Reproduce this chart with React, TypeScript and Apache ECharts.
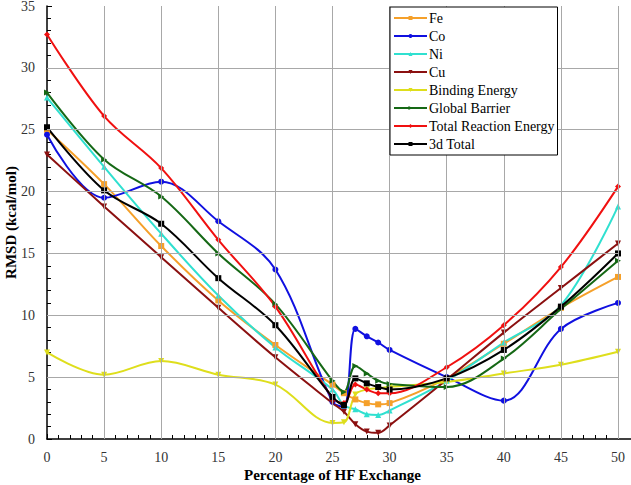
import React, { useEffect, useRef } from "react";
import * as echarts from "echarts";

const hfPercent = [0, 5, 10, 15, 20, 25, 26, 27, 28, 29, 30, 35, 40, 45, 50];
const fe = [25.0, 20.6, 15.6, 11.2, 7.6, 4.4, 3.7, 3.2, 2.9, 2.8, 2.9, 4.9, 7.7, 10.6, 13.1];
const co = [24.6, 19.5, 20.8, 17.6, 13.7, 3.0, 2.6, 8.9, 8.3, 7.8, 7.2, 5.0, 3.1, 8.9, 11.0];
const ni = [27.6, 22.0, 16.6, 11.6, 7.4, 4.0, 2.7, 2.4, 2.0, 1.95, 2.3, 4.7, 7.8, 10.8, 18.8];
const cu = [23.0, 18.8, 14.7, 10.6, 6.6, 2.9, 2.2, 1.2, 0.6, 0.5, 1.1, 4.8, 8.6, 12.2, 15.8];
const bindingEnergy = [7.0, 5.2, 6.3, 5.2, 4.4, 1.3, 1.35, 3.6, 4.0, 4.1, 4.2, 4.6, 5.3, 6.0, 7.05];
const globalBarrier = [28.0, 22.6, 19.6, 15.0, 10.9, 4.7, 3.8, 5.9, 5.3, 4.7, 4.45, 4.2, 6.5, 10.5, 14.4];
const totalReaction = [32.7, 26.1, 21.9, 16.1, 10.7, 3.3, 2.9, 4.4, 4.0, 3.7, 3.7, 5.8, 9.2, 13.9, 20.4];
const total3d = [25.2, 20.1, 17.4, 13.0, 9.2, 3.4, 2.75, 4.9, 4.5, 4.2, 4.0, 4.9, 7.2, 10.7, 15.0];

// grid line positions (vertical at x ticks, horizontal at y ticks)
const xGridTicks = [5, 10, 15, 20, 25, 30, 35, 40, 45, 50];
const yGridTicks = [5, 10, 15, 20, 25, 30];

const seriesDefs = [
  { name: "Fe", data: fe, color: "#f5a02a", symbol: "rect" },
  { name: "Co", data: co, color: "#1010e0", symbol: "circle" },
  { name: "Ni", data: ni, color: "#30e0d0", symbol: "triangle" },
  { name: "Cu", data: cu, color: "#8b1010", symbol: "path://M0,0L10,0L5,10Z" },
  { name: "Binding Energy", data: bindingEnergy, color: "#dede1c", symbol: "path://M0,0L10,0L5,10Z" },
  { name: "Global Barrier", data: globalBarrier, color: "#156815", symbol: "path://M0,0L10,5L0,10Z" },
  { name: "Total Reaction Energy", data: totalReaction, color: "#f01010", symbol: "diamond" },
  { name: "3d Total", data: total3d, color: "#000000", symbol: "rect" },
];

const FONT = "'Liberation Serif', 'Times New Roman', Times, serif";
const GRID_COLOR = "#a8a8a8";

export default function App() {
  const ref = useRef<HTMLDivElement>(null);
  useEffect(() => {
    if (!ref.current) return;
    const chart = echarts.init(ref.current, undefined, { renderer: "svg" });
    const axisCommon = {
      type: "value",
      nameMoveOverlap: false,
      axisLine: { show: true, onZero: false, lineStyle: { color: "#000", width: 1.5 } },
      axisTick: { show: true, inside: true, length: 5, lineStyle: { color: "#000" } },
      minorTick: { show: true, splitNumber: 5, length: 4, lineStyle: { color: "#000" } },
      axisLabel: { fontFamily: FONT, fontSize: 14, color: "#333" },
      splitLine: { show: false },
    };
    chart.setOption({
      animation: false,
      textStyle: { fontFamily: FONT },
      grid: { left: 47, right: 13, top: 6, bottom: 46, outerBoundsMode: "none", containLabel: false },
      legend: {
        orient: "vertical",
        left: 390,
        top: 7,
        padding: [3, 3, 3, 3],
        itemWidth: 33,
        itemHeight: 5,
        itemGap: 2,
        backgroundColor: "#ffffff",
        borderColor: "#000000",
        borderWidth: 1,
        z: 10,
        textStyle: { fontFamily: FONT, fontSize: 14, color: "#000", lineHeight: 16, padding: [0, 0, 0, -3] },
        data: seriesDefs.map((s) => s.name),
      },
      xAxis: {
        ...axisCommon,
        min: 0,
        max: 50,
        interval: 5,
        name: "Percentage of HF Exchange",
        nameLocation: "middle",
        nameGap: 28,
        nameTextStyle: { fontFamily: FONT, fontSize: 15, fontWeight: "bold", color: "#000" },
        axisLabel: { ...axisCommon.axisLabel, margin: 11 },
      },
      yAxis: {
        ...axisCommon,
        min: 0,
        max: 35,
        interval: 5,
        name: "RMSD (kcal/mol)",
        nameLocation: "middle",
        nameGap: 29,
        nameTextStyle: { fontFamily: FONT, fontSize: 15, fontWeight: "bold", color: "#000" },
        axisLabel: { ...axisCommon.axisLabel, margin: 12 },
      },
      graphic: [
        {
          type: "line",
          shape: { x1: 618, y1: 439, x2: 631, y2: 439 },
          style: { stroke: "#000", lineWidth: 1.5 },
        },
      ],
      series: [
        {
          name: "grid",
          type: "line",
          data: [],
          z: 0,
          silent: true,
          markLine: {
            silent: true,
            symbol: ["none", "none"],
            label: { show: false },
            lineStyle: { color: GRID_COLOR, width: 1, type: "solid" },
            data: [
              ...xGridTicks.map((v) => ({ xAxis: v })),
              ...yGridTicks.map((v) => ({ yAxis: v })),
            ],
          },
        },
        ...seriesDefs.map((s) => ({
          name: s.name,
          type: "line",
          smooth: 0.35,
          z: 3,
          data: hfPercent.map((x, i) => [x, s.data[i]]),
          symbol: s.symbol,
          symbolSize: 6,
          itemStyle: { color: s.color },
          lineStyle: { color: s.color, width: 2 },
        })),
      ],
    });
    return () => chart.dispose();
  }, []);
  return <div ref={ref} style={{ width: 631, height: 485, position: "absolute", left: 0, top: 0, background: "#fff" }} />;
}
